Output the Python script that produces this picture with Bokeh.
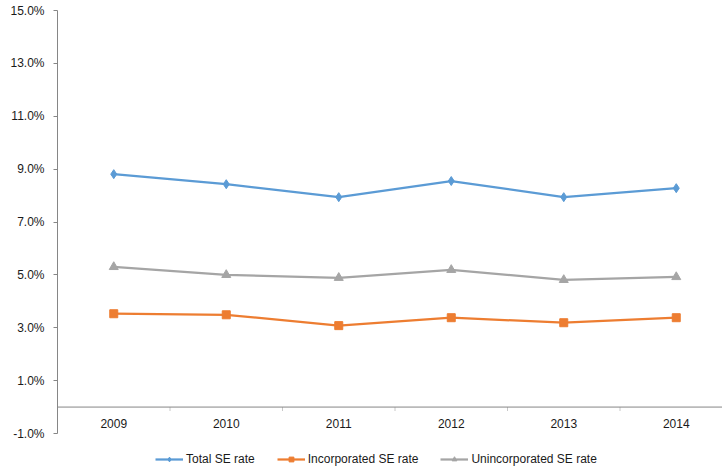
from bokeh.plotting import figure
from bokeh.models import Range1d, Legend, LegendItem, FixedTicker, ColumnDataSource, Span
from bokeh.core.properties import value
from bokeh.embed import file_html
from bokeh.resources import INLINE

years = ["2009", "2010", "2011", "2012", "2013", "2014"]
total_se = [8.81, 8.43, 7.94, 8.55, 7.94, 8.28]
incorporated_se = [3.53, 3.49, 3.08, 3.38, 3.19, 3.38]
unincorporated_se = [5.30, 5.00, 4.89, 5.19, 4.81, 4.92]
y_ticks = [-1, 1, 3, 5, 7, 9, 11, 13, 15]

FONT = "Liberation Sans"
xs = list(range(len(years)))

W, H = 722, 473
LEFT = 57
TOP = 10
AXIS_BOTTOM_PX = 433   # px where -1% sits
CAT_PX = 112.5
frame_w = W - LEFT
px_per_pct = (AXIS_BOTTOM_PX - TOP) / 16.0
y_start = -1 - (H - AXIS_BOTTOM_PX) / px_per_pct

p = figure(width=W, height=H, output_backend="svg", toolbar_location=None,
           x_range=Range1d(-0.5, -0.5 + frame_w / CAT_PX),
           y_range=Range1d(y_start, 15),
           min_border_left=LEFT, min_border_right=0, min_border_top=TOP,
           min_border_bottom=0)
p.outline_line_color = None
p.grid.visible = False
p.xaxis.visible = False

ya = p.yaxis[0]
ya.ticker = FixedTicker(ticks=y_ticks)
ya.bounds = (-1, 15)
ya.major_label_overrides = {t: f"{t:.1f}%" for t in y_ticks}
ya.axis_line_color = "#868686"
ya.major_tick_line_color = "#868686"
ya.major_tick_out = 4
ya.major_tick_in = 0
ya.minor_tick_line_color = None
ya.major_label_standoff = 9
ya.major_label_text_font = FONT
ya.major_label_text_font_size = "12px"
ya.major_label_text_color = "#1a1a1a"

# horizontal axis crossing at zero
p.add_layout(Span(location=0, dimension="width", line_color="#868686", line_width=1))
bounds = [i + 0.5 for i in range(len(years))]
p.segment(x0=bounds, y0=[0] * len(bounds), x1=bounds, y1=[-0.15] * len(bounds),
          line_color="#c8c8c8", line_width=1)
p.text(x=xs, y=[0] * len(xs), text=years, text_align="center", text_baseline="middle",
       y_offset=16, text_font=value(FONT), text_font_size="12px", text_color="#1a1a1a")

series = [
    ("Total SE rate", total_se, "#5B9BD5", "diamond", 9),
    ("Incorporated SE rate", incorporated_se, "#ED7D31", "square", 8),
    ("Unincorporated SE rate", unincorporated_se, "#A5A5A5", "triangle", 9),
]
items = []
for name, vals, color, marker, size in series:
    src = ColumnDataSource(dict(x=xs, y=vals))
    l = p.line("x", "y", source=src, line_color=color, line_width=2.25)
    s = p.scatter("x", "y", source=src, marker=marker, size=size, fill_color=color,
                  line_color=color)
    items.append(LegendItem(label=name, renderers=[l, s]))

legend = Legend(items=items, orientation="horizontal", location=(98, 7),
                border_line_color=None, background_fill_alpha=0,
                label_text_font=FONT, label_text_font_size="12px",
                label_text_color="#1a1a1a", glyph_width=28, glyph_height=12,
                label_height=12, label_standoff=3, spacing=22, padding=0, margin=0)
p.add_layout(legend)

open("out.html", "w").write(file_html(p, INLINE))
